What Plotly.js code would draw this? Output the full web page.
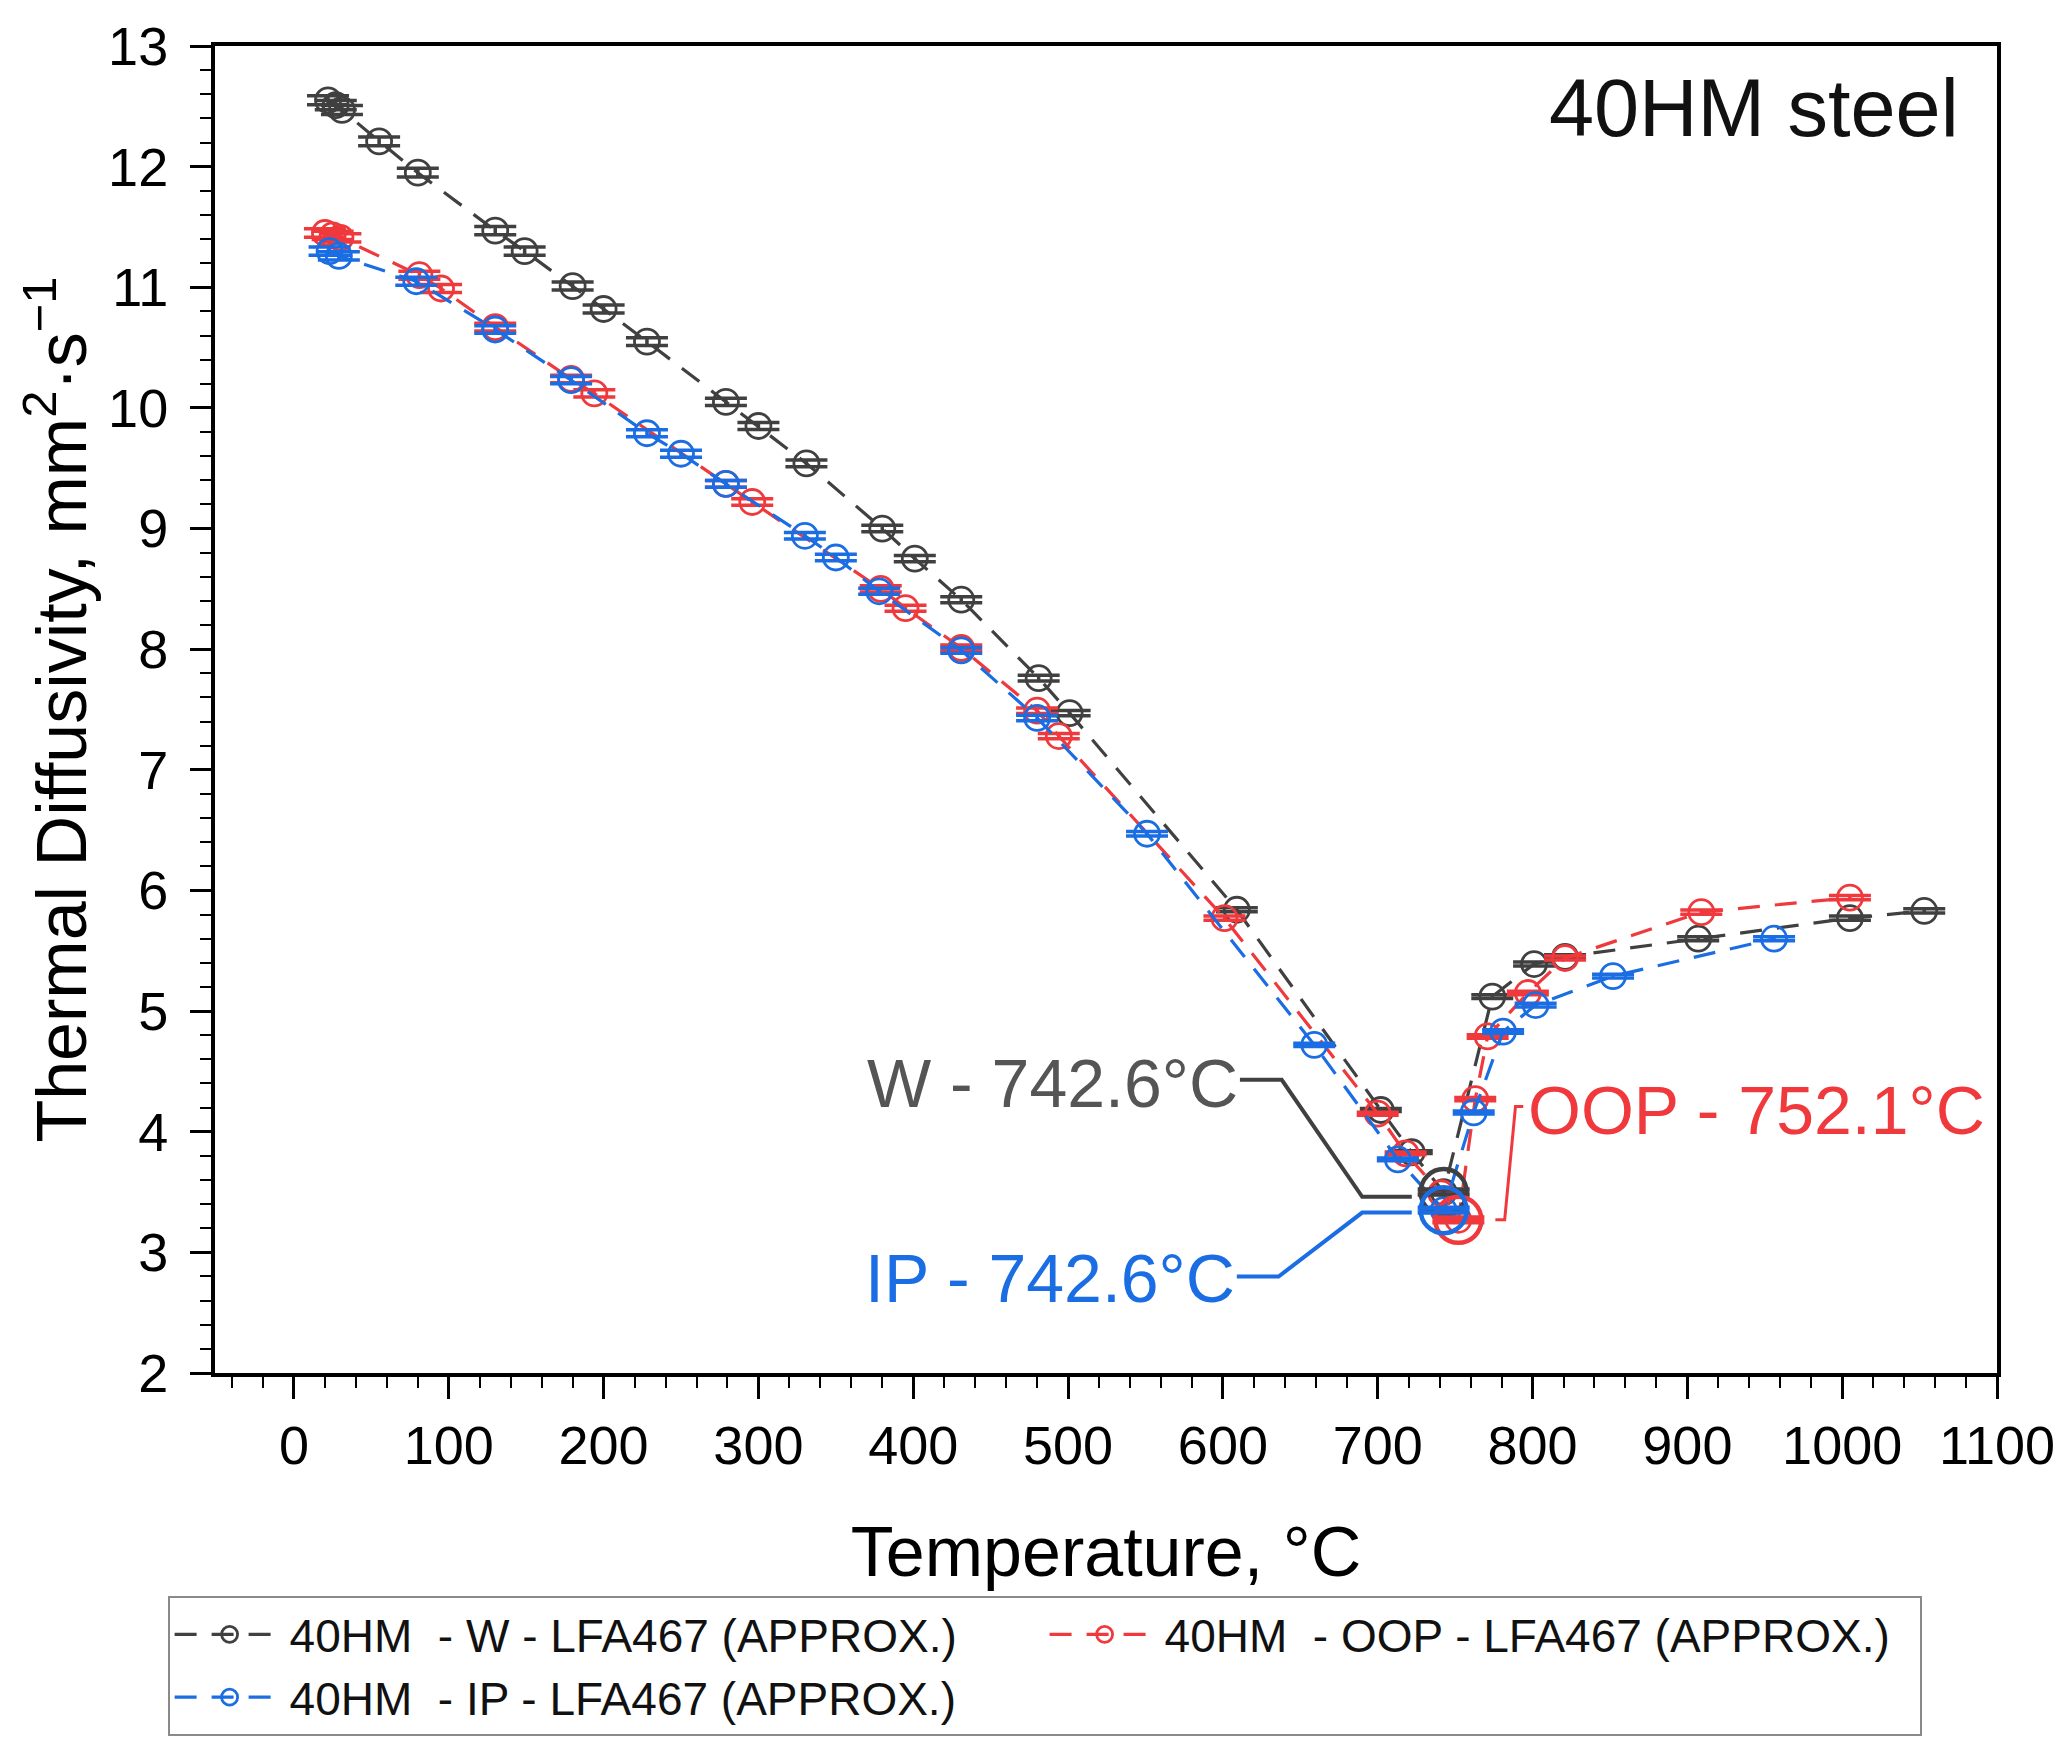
<!DOCTYPE html>
<html>
<head>
<meta charset="utf-8">
<script src="https://cdn.plot.ly/plotly-3.0.1.min.js"></script>
<style>
  html, body { margin: 0; padding: 0; background: #fff; }
  #chart { width: 2069px; height: 1748px; }
</style>
</head>
<body>
<div id="chart"></div>
<script>
// values (temperature in C, diffusivity in mm2/s)
var w_temp = [22, 27, 31, 55, 80, 130, 149, 180, 200, 228, 279, 300, 331, 380, 401, 431, 481, 501, 609, 702, 722, 742.6, 774, 801, 821, 907, 1005, 1053];
var w_diff = [12.55, 12.51, 12.47, 12.21, 11.95, 11.47, 11.30, 11.01, 10.82, 10.55, 10.05, 9.85, 9.54, 9.00, 8.75, 8.41, 7.76, 7.47, 5.84, 4.18, 3.83, 3.50, 5.12, 5.39, 5.45, 5.60, 5.77, 5.83];

var oop_temp = [20, 25, 30, 81, 95, 130, 179, 194, 279, 296, 379, 395, 431, 480, 494, 601, 700, 718, 741, 752.1, 763, 771, 797, 821, 909, 1005];
var oop_diff = [11.45, 11.43, 11.41, 11.10, 10.99, 10.67, 10.24, 10.12, 9.37, 9.22, 8.50, 8.34, 8.01, 7.49, 7.28, 5.77, 4.15, 3.82, 3.49, 3.27, 4.27, 4.79, 5.15, 5.44, 5.82, 5.94];

var ip_temp = [23, 29, 79, 130, 179, 228, 250, 279, 330, 350, 378, 431, 480, 551, 659, 713, 742.6, 762, 781, 802, 852, 956];
var ip_diff = [11.30, 11.26, 11.05, 10.65, 10.23, 9.79, 9.62, 9.37, 8.94, 8.76, 8.48, 7.99, 7.43, 6.47, 4.72, 3.77, 3.35, 4.16, 4.83, 5.05, 5.29, 5.60];

var series_names = ['40HM\u00a0 - W - LFA467 (APPROX.)', '40HM\u00a0 - OOP - LFA467 (APPROX.)', '40HM\u00a0 - IP - LFA467 (APPROX.)'];
var series_short = ['W', 'OOP', 'IP'];
var colors = ['#404040', '#f0393c', '#1a6de3'];

var font = 'Liberation Sans, Arial, sans-serif';

function minPoint(x, y){
	var k = 0;
	for(var i=1; i<y.length; i++){
		if(y[i] < y[k]) k = i;
	}
	return {x: x[k], y: y[k]};
}

var all_x = [w_temp, oop_temp, ip_temp];
var all_y = [w_diff, oop_diff, ip_diff];

var data = [];
var mins = [];

for(var i=0; i<3; i++){
	data.push({
		x: all_x[i],
		y: all_y[i],
		type: 'scatter',
		mode: 'lines+markers',
		name: series_names[i],
		line: {color: colors[i], width: 3.2, dash: '22px,15px'},
		marker: {symbol: 'circle-open', size: 25, color: colors[i], line: {width: 2.8, color: colors[i]}},
		error_y: {type: 'percent', value: 0.3, width: 21, thickness: 3.5, color: colors[i]},
	});
	mins.push(minPoint(all_x[i], all_y[i]));
}

// bigger circles on the minimum of each series
for(var i=0; i<3; i++){
	data.push({
		x: [mins[i].x],
		y: [mins[i].y],
		type: 'scatter',
		mode: 'markers',
		showlegend: false,
		hoverinfo: 'skip',
		marker: {symbol: 'circle-open', size: 46, color: colors[i], line: {width: 4.5, color: colors[i]}},
		error_y: {type: 'percent', value: 0.6, width: 26, thickness: 4.5, color: colors[i]},
	});
}

function label(i){
	return series_short[i] + ' - ' + mins[i].x.toFixed(1) + '\u00b0C';
}

var layout = {
	width: 2069,
	height: 1748,
	paper_bgcolor: '#fff',
	plot_bgcolor: '#fff',
	font: {family: font, color: '#000', size: 54},
	margin: {l: 215, r: 72, t: 46, b: 372},
	showlegend: true,
	legend: {
		orientation: 'h',
		x: -0.0266, xanchor: 'left',
		y: -0.168, yanchor: 'top',
		bgcolor: '#fff',
		bordercolor: '#8a8a8a',
		borderwidth: 2,
		font: {family: font, size: 46, color: '#111'},
		itemwidth: 110,
		entrywidth: 750,
		entrywidthmode: 'pixels',
		tracegroupgap: 0,
	},
	xaxis: {
		range: [-51, 1100],
		dtick: 100,
		tick0: 0,
		ticks: 'outside',
		ticklen: 22,
		tickwidth: 3,
		tickcolor: '#000',
		minor: {dtick: 20, ticks: 'outside', ticklen: 11, tickwidth: 2, tickcolor: '#000'},
		showgrid: false,
		zeroline: false,
		showline: true,
		linewidth: 4,
		linecolor: '#000',
		mirror: true,
		tickfont: {size: 54},
		title: {text: 'Temperature, \u00b0C', font: {size: 70}, standoff: 54},
	},
	yaxis: {
		range: [2, 13],
		dtick: 1,
		ticks: 'outside',
		ticklen: 21,
		tickwidth: 3,
		tickcolor: '#000',
		ticklabelstandoff: 11,
		minor: {dtick: 0.2, ticks: 'outside', ticklen: 11, tickwidth: 2, tickcolor: '#000'},
		showgrid: false,
		zeroline: false,
		showline: true,
		linewidth: 4,
		linecolor: '#000',
		mirror: true,
		tickfont: {size: 54},
		title: {text: 'Thermal Diffusivity, mm<sup>2</sup>\u00b7s<sup>\u22121</sup>', font: {size: 70}, standoff: 0},
	},
	annotations: [
		{xref: 'paper', yref: 'paper', x: 0.98, y: 0.953, xanchor: 'right', yanchor: 'middle',
		 text: '40HM steel', showarrow: false, font: {size: 81, color: '#111'}},
		{xref: 'x', yref: 'y', x: 611, y: 4.40, xanchor: 'right', yanchor: 'middle',
		 text: label(0), showarrow: false, font: {size: 68, color: '#555555'}},
		{xref: 'x', yref: 'y', x: 796, y: 4.18, xanchor: 'left', yanchor: 'middle',
		 text: label(1), showarrow: false, font: {size: 68, color: colors[1]}},
		{xref: 'x', yref: 'y', x: 609, y: 2.79, xanchor: 'right', yanchor: 'middle',
		 text: label(2), showarrow: false, font: {size: 68, color: colors[2]}},
	],
	shapes: [
		{type: 'path', xref: 'x', yref: 'y', path: 'M611,4.43 L638,4.43 L690,3.46 L722,3.46',
		 line: {color: '#404040', width: 4}},
		{type: 'path', xref: 'x', yref: 'y', path: 'M609,2.80 L636,2.80 L690,3.33 L722,3.33',
		 line: {color: colors[2], width: 4}},
		{type: 'path', xref: 'x', yref: 'y', path: 'M776,3.27 L782,3.27 L789,4.21 L794,4.21',
		 line: {color: colors[1], width: 3}},
	],
};

var config = {responsive: false, displayModeBar: false, staticPlot: true};

Plotly.newPlot('chart', data, layout, config);
</script>
</body>
</html>
